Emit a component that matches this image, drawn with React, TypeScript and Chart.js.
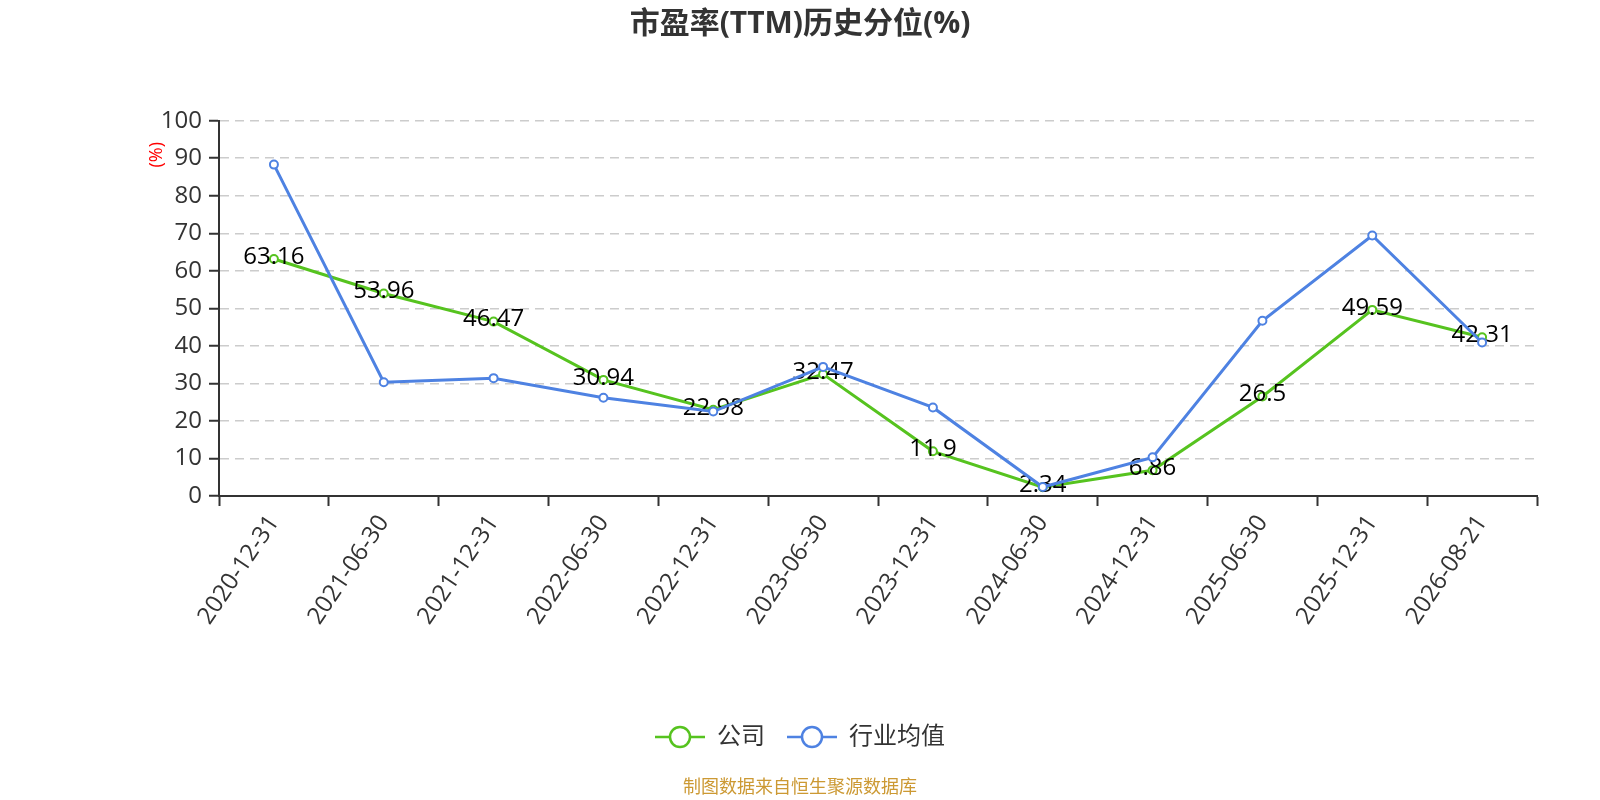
import { useEffect, useRef } from 'react'
import { Chart, registerables, type ChartConfiguration, type Plugin } from 'chart.js'

Chart.register(...registerables)

const dates = [
  '2020-12-31', '2021-06-30', '2021-12-31', '2022-06-30', '2022-12-31', '2023-06-30',
  '2023-12-31', '2024-06-30', '2024-12-31', '2025-06-30', '2025-12-31', '2026-08-21',
]
const companyValues = [63.16, 53.96, 46.47, 30.94, 22.98, 32.47, 11.9, 2.34, 6.86, 26.5, 49.59, 42.31]
const industryValues = [88.3, 30.3, 31.4, 26.2, 22.5, 34.4, 23.6, 2.4, 10.3, 46.7, 69.4, 40.9]
const seriesNames = ['公司', '行业均值']
const seriesColors = ['#56c31f', '#4e82e2']
const yMin = 0
const yMax = 100
const yStep = 10

const FONT = '"Open Sans", "Noto Sans CJK SC", sans-serif'
const TITLE = '市盈率(TTM)历史分位(%)'
const FOOTER = '制图数据来自恒生聚源数据库'

// legend icon: short line with an empty circle in the middle
function legendIcon(color: string): HTMLCanvasElement {
  const c = document.createElement('canvas')
  c.width = 50
  c.height = 24
  const ctx = c.getContext('2d')!
  ctx.strokeStyle = color
  ctx.lineWidth = 2.5
  ctx.beginPath()
  ctx.moveTo(0, 12)
  ctx.lineTo(50, 12)
  ctx.stroke()
  ctx.beginPath()
  ctx.arc(25, 12, 10, 0, Math.PI * 2)
  ctx.fillStyle = '#fff'
  ctx.fill()
  ctx.stroke()
  return c
}

// value labels for the company series, drawn before the industry line
const valueLabels: Plugin<'line'> = {
  id: 'valueLabels',
  afterDatasetDraw(chart, args) {
    if (args.index !== 0) return
    const { ctx } = chart
    ctx.save()
    ctx.font = `24px ${FONT}`
    ctx.fillStyle = '#000'
    ctx.textAlign = 'center'
    ctx.textBaseline = 'middle'
    args.meta.data.forEach((pt, i) => {
      ctx.fillText(String(companyValues[i]), pt.x, pt.y - 2)
    })
    ctx.restore()
  },
}

const extraText: Plugin<'line'> = {
  id: 'extraText',
  afterDraw(chart) {
    const { ctx, chartArea, width } = chart
    ctx.save()
    // y axis unit
    ctx.translate(chartArea.left - 62, chartArea.top + 34)
    ctx.rotate(-Math.PI / 2)
    ctx.font = `18px ${FONT}`
    ctx.fillStyle = '#ff0000'
    ctx.textAlign = 'center'
    ctx.textBaseline = 'middle'
    ctx.fillText('(%)', 0, 0)
    ctx.restore()

    ctx.save()
    ctx.font = `18px ${FONT}`
    ctx.fillStyle = '#cc9933'
    ctx.textAlign = 'center'
    ctx.textBaseline = 'middle'
    ctx.fillText(FOOTER, width / 2, 788)
    ctx.restore()
  },
}

export default function App() {
  const canvasRef = useRef<HTMLCanvasElement>(null)
  const chartRef = useRef<Chart | null>(null)

  useEffect(() => {
    const canvas = canvasRef.current
    if (!canvas) return
    chartRef.current?.destroy()

    const seriesData = [companyValues, industryValues]
    const icons = seriesColors.map(legendIcon)

    const config: ChartConfiguration<'line'> = {
      type: 'line',
      data: {
        labels: dates,
        datasets: seriesData.map((values, i) => ({
          label: seriesNames[i],
          data: values,
          borderColor: seriesColors[i],
          backgroundColor: seriesColors[i],
          borderWidth: 3,
          pointRadius: 4,
          pointBorderWidth: 2,
          pointBackgroundColor: '#fff',
          pointBorderColor: seriesColors[i],
          tension: 0,
          fill: false,
          order: i === 0 ? 1 : 0,
        })),
      },
      options: {
        responsive: true,
        maintainAspectRatio: false,
        animation: false,
        events: [],
        layout: { padding: { left: 63, right: 63, top: 0, bottom: 41 } },
        plugins: {
          tooltip: { enabled: false },
          title: {
            display: true,
            text: TITLE,
            color: '#333',
            font: { size: 30, weight: 'bold', family: FONT, lineHeight: 1 },
            padding: { top: 9, bottom: 81.7 },
          },
          legend: {
            position: 'bottom',
            labels: {
              usePointStyle: true,
              pointStyleWidth: 50,
              boxHeight: 24,
              padding: 22,
              color: '#333',
              font: { size: 24, family: FONT },
              generateLabels: () =>
                seriesNames.map((name, i) => ({
                  text: name,
                  datasetIndex: i,
                  pointStyle: icons[i],
                  fillStyle: '#fff',
                  strokeStyle: seriesColors[i],
                  fontColor: '#333',
                  lineWidth: 0,
                  hidden: false,
                })),
            },
          },
        },
        scales: {
          x: {
            type: 'category',
            offset: true,
            grid: {
              display: true,
              offset: true,
              drawOnChartArea: false,
              drawTicks: true,
              tickLength: 10,
              tickColor: '#333',
              tickWidth: 2,
            },
            border: { display: true, color: '#333', width: 2 },
            ticks: {
              autoSkip: false,
              maxRotation: 56,
              minRotation: 56,
              padding: 4,
              color: '#333',
              font: { size: 24, family: FONT },
            },
            afterFit: (scale) => {
              scale.height = 207
            },
          },
          y: {
            min: yMin,
            max: yMax,
            ticks: {
              stepSize: yStep,
              padding: 7,
              color: '#333',
              font: { size: 24, family: FONT },
            },
            grid: {
              color: (c) => (c.tick && c.tick.value === yMin ? 'rgba(0,0,0,0)' : '#cccccc'),
              lineWidth: 1.5,
              tickLength: 10,
              tickColor: '#333',
              tickWidth: 2,
            },
            border: { display: true, color: '#333', width: 2, dash: [9, 6] },
            afterFit: (scale) => {
              scale.width = 156
            },
          },
        },
      },
      plugins: [valueLabels, extraText],
    }

    chartRef.current = new Chart(canvas, config)
    return () => {
      chartRef.current?.destroy()
      chartRef.current = null
    }
  }, [])

  return (
    <div style={{ position: 'fixed', left: 0, top: 0, width: 1600, height: 800 }}>
      <canvas ref={canvasRef} />
    </div>
  )
}
